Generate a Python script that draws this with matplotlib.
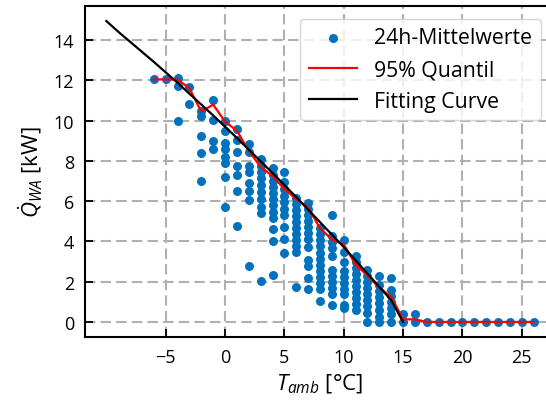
import matplotlib
matplotlib.use('Agg')
import matplotlib.pyplot as plt

# ---------------- data ----------------
# 24h mean values: ambient temperature [°C] and heat demand [kW]
pt_temp = [
    -6,
    -5,
    -4, -4, -4,
    -3, -3,
    -2, -2, -2, -2, -2,
    -1, -1, -1, -1,
    0, 0, 0, 0, 0, 0, 0, 0,
    1, 1, 1, 1, 1, 1, 1,
    2, 2, 2, 2, 2, 2, 2, 2,
    3, 3, 3, 3, 3, 3, 3, 3, 3, 3,
    4, 4, 4, 4, 4, 4, 4, 4, 4, 4, 4, 4,
    5, 5, 5, 5, 5, 5, 5, 5, 5, 5,
    6, 6, 6, 6, 6, 6, 6, 6, 6, 6, 6,
    7, 7, 7, 7, 7, 7, 7, 7, 7, 7, 7, 7,
    8, 8, 8, 8, 8, 8, 8, 8, 8, 8, 8, 8,
    9, 9, 9, 9, 9, 9, 9, 9, 9, 9, 9,
    10, 10, 10, 10, 10, 10, 10, 10, 10, 10,
    11, 11, 11, 11, 11, 11, 11, 11, 11, 11,
    12, 12, 12, 12, 12, 12, 12, 12, 12,
    13, 13, 13, 13, 13, 13, 13, 13,
    14, 14, 14, 14, 14, 14, 14,
    15, 15,
    16, 16,
    17, 18, 19, 20, 21, 22, 23, 24, 25, 26,
]
pt_q = [
    12.05,
    12.05,
    12.1, 11.7, 10.0,
    11.65, 10.85,
    10.5, 10.25, 9.25, 8.4, 7.0,
    11.05, 10.05, 9.0, 8.6,
    10.0, 9.5, 8.9, 8.6, 8.2, 7.9, 7.2, 5.7,
    9.6, 9.05, 8.45, 7.75, 7.3, 6.5, 4.75,
    8.85, 8.45, 7.75, 7.45, 6.9, 6.5, 6.05, 2.8,
    8.1, 7.75, 7.45, 7.15, 6.8, 6.45, 6.1, 5.7, 5.4, 2.05,
    7.65, 7.3, 7.0, 6.7, 6.4, 6.1, 5.8, 5.45, 5.15, 4.6, 4.0, 2.35,
    7.45, 6.95, 6.6, 6.25, 5.95, 5.6, 5.3, 4.7, 4.1, 3.45,
    6.15, 5.85, 5.55, 5.25, 4.95, 4.65, 4.35, 4.05, 3.75, 3.5, 1.75,
    5.9, 5.6, 5.3, 5.0, 4.7, 4.4, 4.1, 3.7, 3.1, 2.8, 2.2, 1.65,
    4.65, 4.35, 4.05, 3.75, 3.45, 3.15, 2.85, 2.55, 2.25, 1.95, 1.65, 1.05,
    5.3, 4.25, 3.95, 3.65, 3.3, 2.6, 2.3, 2.0, 1.7, 1.4, 0.85,
    4.05, 3.5, 3.0, 2.55, 2.25, 1.95, 1.65, 1.4, 0.85, 0.7,
    3.3, 3.0, 2.7, 2.4, 2.1, 1.8, 1.5, 1.2, 0.9, 0.6,
    2.6, 2.3, 2.0, 1.7, 1.4, 1.1, 0.8, 0.45, 0.0,
    2.3, 1.85, 1.55, 1.25, 0.95, 0.6, 0.25, 0.0,
    2.2, 1.6, 1.3, 1.0, 0.7, 0.4, 0.0,
    0.4, 0.0,
    0.4, 0.0,
    0.0, 0.0, 0.0, 0.0, 0.0, 0.0, 0.0, 0.0, 0.0, 0.0,
]

# 95 % quantile per temperature
quant_temp = [-6, -5, -4, -3, -2, -1, 0, 1, 2, 3, 4, 5, 6, 7, 8, 9, 10,
              11, 12, 13, 14, 15, 16, 17, 18, 19, 20, 21, 22, 23, 24, 25, 26]
quant_q = [12.05, 12.05, 12.05, 11.6, 10.45, 10.8, 9.95, 9.5, 8.5, 7.7, 7.25,
           6.6, 6.1, 5.7, 4.65, 4.1, 3.85, 2.85, 2.3, 1.7, 1.25, 0.13, 0.13,
           0.0, 0.0, 0.0, 0.0, 0.0, 0.0, 0.0, 0.0, 0.0, 0.0]

# fitting curve
fit_temp = [-10, -9, -8, -7, -6, -5, -4, -3, -2, -1, 0, 1, 2, 3, 4, 5, 6,
            7, 8, 9, 10, 11, 12, 13, 14, 15]
fit_q = [14.95, 14.42, 13.92, 13.42, 12.92, 12.40, 11.88, 11.34, 10.80,
         10.26, 9.70, 9.14, 8.56, 7.98, 7.40, 6.80, 6.20, 5.58, 4.96, 4.34,
         3.72, 3.06, 2.40, 1.74, 1.08, 0.0]

x_ticks = [-5, 0, 5, 10, 15, 20, 25]
y_ticks = [0, 2, 4, 6, 8, 10, 12, 14]

# ---------------- style ----------------
plt.rcParams['font.family'] = ['Open Sans', 'DejaVu Sans']
plt.rcParams['mathtext.fontset'] = 'custom'
plt.rcParams['mathtext.rm'] = 'Open Sans'
plt.rcParams['mathtext.it'] = 'Open Sans:italic'
plt.rcParams['mathtext.bf'] = 'Open Sans:bold'

fig = plt.figure(figsize=(5.46, 4.06), dpi=100)
ax = fig.add_axes([85 / 546, 68 / 406, 470 / 546, 331 / 406])

ax.scatter(pt_temp, pt_q, s=42, color='#0072BD', label='24h-Mittelwerte',
           zorder=2, linewidths=0)
ax.plot(quant_temp, quant_q, color='red', lw=1.6, label='95% Quantil', zorder=3)
ax.plot(fit_temp, fit_q, color='black', lw=1.6, label='Fitting Curve', zorder=4)

ax.set_xticks(x_ticks)
ax.set_yticks(y_ticks)
ax.grid(True, color='#b0b0b0', lw=1.5, ls=(0, (5, 2.5)))
ax.set_axisbelow(True)
ax.tick_params(direction='in', length=6, width=1.3, labelsize=13, pad=8)
for s in ax.spines.values():
    s.set_linewidth(1.5)

ax.set_xlabel(r'$T_{amb}$ [°C]', fontsize=16, labelpad=4)
ax.set_ylabel(r'$\dot{Q}_{WA}$ [kW]', fontsize=16, labelpad=6)
ax.legend(loc='upper right', fontsize=15.3, scatterpoints=1,
          handlelength=2.3, borderaxespad=0,
          bbox_to_anchor=(0.970, 0.961))

fig.savefig('out.png', dpi=100)
